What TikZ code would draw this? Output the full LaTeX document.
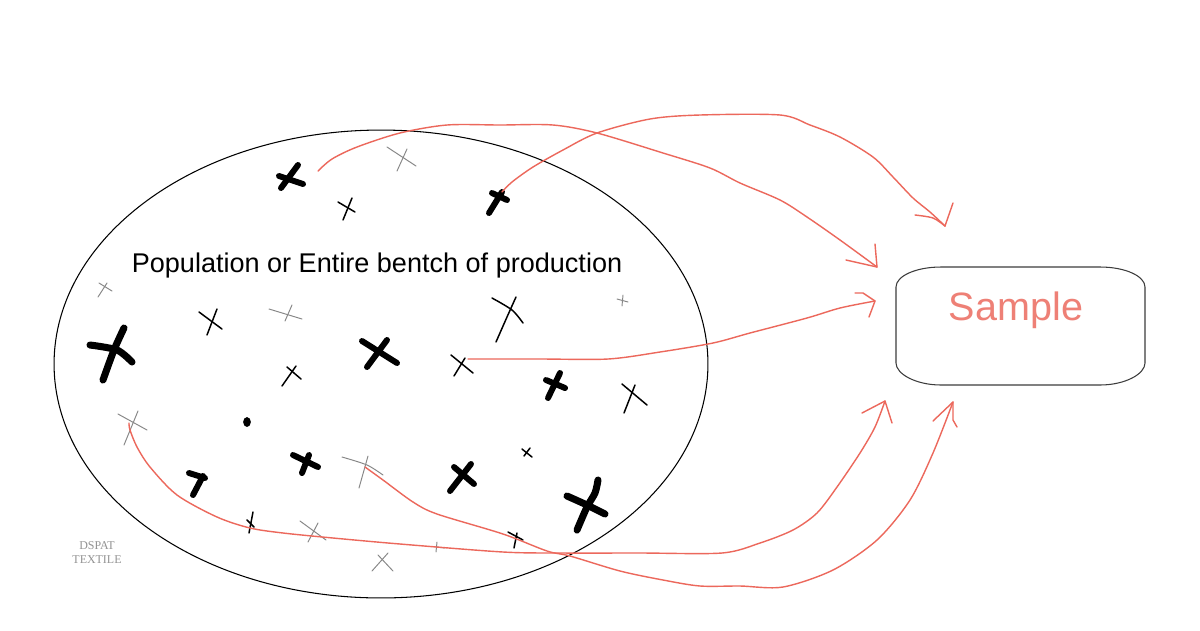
\documentclass[tikz,border=0pt]{standalone}
\usepackage{fontspec}
\setmainfont{Liberation Sans}
\newfontfamily\wmfont{Liberation Serif}
\usetikzlibrary{shapes.geometric}
\definecolor{redpen}{RGB}{236,104,92}
\definecolor{samplecol}{RGB}{238,128,118}
\definecolor{graypen}{RGB}{135,135,135}
\definecolor{boxline}{RGB}{60,60,60}
\begin{document}
\begin{tikzpicture}[x=0.02cm,y=-0.02cm,
  thickx/.style={line width=3.4pt,line cap=round,line join=round},
  bigx/.style={line width=4pt,line cap=round,line join=round},
  thinx/.style={line width=0.85pt,line cap=round,line join=round},
  grayx/.style={graypen,line width=0.55pt,line cap=round,line join=round},
  pen/.style={redpen,line width=0.8pt,line cap=round,line join=round},
  barb/.style={redpen,line width=0.8pt,line cap=round,line join=round},
  popellipse/.style={draw,ellipse,line width=0.6pt,inner sep=0pt,minimum width=13.08cm,minimum height=9.36cm},
  poptext/.style={anchor=base,font=\fontsize{15.4}{18}\selectfont,text=black},
  sampletext/.style={anchor=base,font=\fontsize{22.5}{26}\selectfont,text=samplecol},
  wmtext/.style={anchor=base,font=\wmfont\fontsize{6.8}{8}\selectfont,text=graypen!90}]
\useasboundingbox (0,0) rectangle (1200,630);
\fill[white] (0,0) rectangle (1200,630);

% population ellipse and its label
\node[popellipse] (population) at (381,364) {};
\node[poptext] (poplabel) at (377,272) {Population or Entire bentch of production};

% sample box
\draw[boxline,line width=0.6pt] (941,267) -- (1100,267) .. controls (1125,267) and (1145,276) .. (1145,287)
  -- (1145,363) .. controls (1145,374) and (1125,385) .. (1100,385)
  -- (941,385) .. controls (916,385) and (896,374) .. (896,363)
  -- (896,287) .. controls (896,276) and (916,267) .. (941,267) -- cycle;
\node[sampletext] (sample) at (1016,320) {Sample};

% watermark
\node[wmtext] (wm1) at (97,549) {DSPAT};
\node[wmtext] (wm2) at (97,563) {TEXTILE};

% thick black marks
\draw[thickx] (279,176) -- (303,184); \draw[thickx] (298,165) -- (281,188);
\draw[thickx] (492,193) -- (507,200); \draw[thickx] (502,192) -- (489,213);
\draw[bigx] plot[smooth] coordinates {(90,345) (117,350) (132,362)};
\draw[bigx] plot[smooth] coordinates {(124,328) (114,350) (103,380)};
\draw[thickx] (362,341) -- (397,363); \draw[thickx] (387,340) -- (367,367);
\draw[thickx] (546,380) -- (565,388); \draw[thickx] (560,373) -- (548,398);
\fill (247,422) ellipse [x radius=2.2pt, y radius=2.8pt];
\draw[thickx] (189,473) -- (205,478); \draw[thickx] (203,476) -- (193,495);
\draw[thickx] (293,455) -- (318,467); \draw[thickx] (309,455) -- (302,473);
\draw[thickx] (454,467) -- (474,484); \draw[thickx] (471,464) -- (450,491);
\draw[bigx] plot[smooth] coordinates {(567,496) (587,505) (605,514)};
\draw[bigx] plot[smooth] coordinates {(598,480) (595,493) (587,507) (577,530)};

% thin black marks
\draw[thinx] (338,202) -- (355,212); \draw[thinx] (352,198) -- (343,220);
\draw[thinx] (199,312) -- (222,329); \draw[thinx] (217,309) -- (207,335);
\draw[thinx] (287,367) -- (301,379); \draw[thinx] (296,366) -- (282,386);
\draw[thinx] (451,355) -- (473,373); \draw[thinx] (465,358) -- (454,376);
\draw[thinx] plot[smooth] coordinates {(492,298) (512,310) (523,323)};
\draw[thinx] plot[smooth] coordinates {(516,297) (507,317) (496,342)};
\draw[thinx] (622,384) -- (647,405); \draw[thinx] (635,385) -- (624,413);
\draw[thinx] (522,449) -- (532,457); \draw[thinx] (530,448) -- (524,456);
\draw[thinx] (253,512) -- (249,533); \draw[thinx] (247,520) -- (254,527);
\draw[thinx] (508,532) -- (523,540); \draw[thinx] (517,533) -- (514,548);

% grey marks
\draw[grayx] (387,147) -- (416,166); \draw[grayx] (407,149) -- (397,171);
\draw[grayx] (99,283) -- (112,291); \draw[grayx] (107,283) -- (98,297);
\draw[grayx] (269,309) -- (302,319); \draw[grayx] (292,305) -- (285,321);
\draw[grayx] (617,299) -- (628,302); \draw[grayx] (623,295) -- (622,306);
\draw[grayx] (118,414) -- (147,430); \draw[grayx] (138,411) -- (124,445);
\draw[grayx] plot[smooth] coordinates {(342,457) (367,465) (383,475)};
\draw[grayx] (368,456) -- (359,488);
\draw[grayx] (300,521) -- (326,540); \draw[grayx] (318,523) -- (308,542);
\draw[grayx] (372,571) -- (388,553); \draw[grayx] (378,555) -- (393,571);
\draw[grayx] (437,542) -- (436,552); \draw[grayx] (436,547) -- (445,548);

% arrow ends
\coordinate (sA) at (318,171);
\coordinate (sB) at (502,192);
\coordinate (sC) at (468,359);
\coordinate (sD) at (129,423);
\coordinate (sE) at (365,467);
\coordinate (tA) at (877,267);
\coordinate (tB) at (945,226);
\coordinate (tC) at (875,301);
\coordinate (tD) at (885,401);
\coordinate (tE) at (953,402);

% red arrows
\draw[pen] plot[smooth,tension=0.5] coordinates {(sA) (332,159) (357,147) (400,133) (447,125) (500,125) (553,125) (597,133) (663,153) (710,168) (740,183) (780,200) (807,217) (840,240) (tA)};
\draw[barb] (846,260) -- (tA) -- (875,244);

\draw[pen] plot[smooth,tension=0.5] coordinates {(sB) (512,182) (533,167) (563,150) (597,133) (650,119) (700,115) (780,115) (810,125) (840,137) (873,157) (893,177) (913,198) (930,212) (tB)};
\draw[barb] plot[smooth] coordinates {(915,215) (933,218) (tB)};
\draw[barb] (tB) -- (953,203);

\draw[pen] plot[smooth,tension=0.5] coordinates {(sC) (540,359) (608,359) (660,352) (713,343) (750,333) (807,318) (840,308) (tC)};
\draw[barb] (855,293) -- (863,293) -- (tC) -- (869,317);

\draw[pen] plot[smooth,tension=0.5] coordinates {(sD) (130,430) (137,447) (150,467) (177,495) (217,517) (250,528) (283,533) (333,538) (400,544) (503,552) (560,553) (640,553) (722,553) (760,543) (793,530) (817,513) (837,487) (860,453) (875,427) (tD)};
\draw[barb] (862,413) -- (tD) -- (892,423);

\draw[pen] plot[smooth,tension=0.5] coordinates {(sE) (383,480) (413,502) (437,514) (503,534) (547,551) (570,556) (620,571) (663,580) (700,586) (740,586) (783,587) (833,570) (877,540) (910,500) (933,453) (tE)};
\draw[barb] (933,421) -- (tE) -- (953,420) -- (957,427);
\end{tikzpicture}
\end{document}
